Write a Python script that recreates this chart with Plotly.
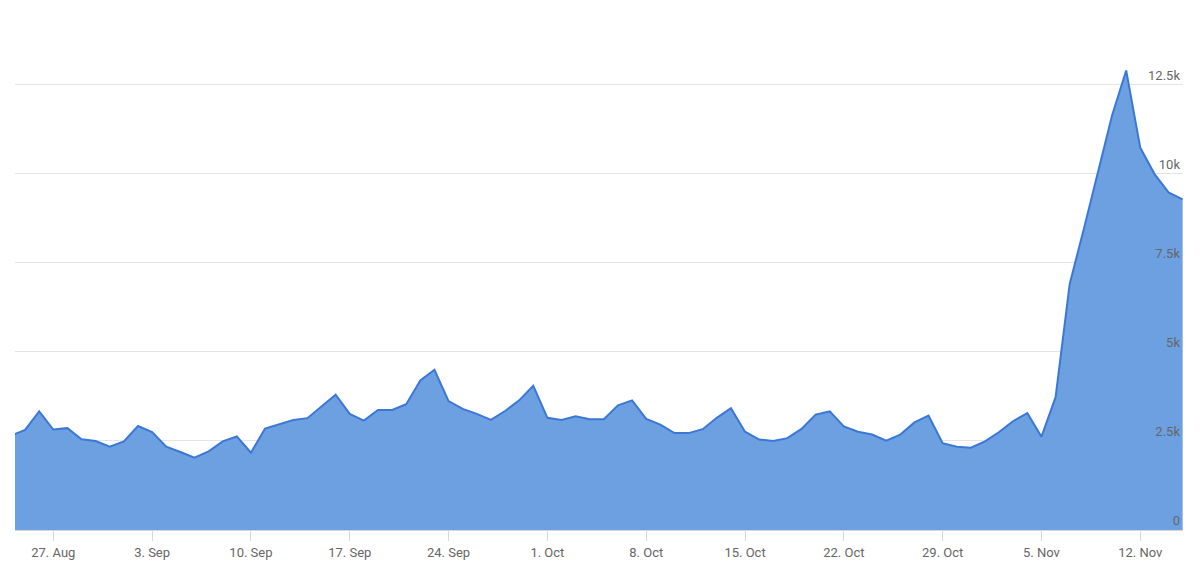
import pandas as pd
import plotly.graph_objects as go

start_date = "2018-08-24"
values = [
    2650, 2810, 3330, 2820, 2860, 2550, 2500, 2340, 2490, 2920,
    2750, 2340, 2190, 2030, 2210, 2490, 2630, 2170, 2850, 2960,
    3090, 3140, 3470, 3800, 3260, 3070, 3370, 3370, 3530, 4200,
    4500, 3620, 3400, 3260, 3090, 3340, 3640, 4050, 3150, 3090,
    3190, 3110, 3110, 3500, 3640, 3120, 2960, 2720, 2720, 2830,
    3150, 3420, 2760, 2540, 2500, 2580, 2840, 3240, 3330, 2910,
    2760, 2680, 2510, 2680, 3020, 3210, 2440, 2340, 2310, 2490,
    2750, 3060, 3280, 2620, 3730, 6910, 8450, 10050, 11640, 12900,
    10730, 10000, 9480, 9280,
]
dates = pd.date_range(start_date, periods=len(values), freq="D")

y_ticks = [0, 2500, 5000, 7500, 10000, 12500]
y_tick_labels = ["0", "2.5k", "5k", "7.5k", "10k", "12.5k"]

fig = go.Figure()
fig.add_trace(go.Scatter(
    x=dates, y=values, mode="lines",
    line=dict(color="#3b78d6", width=2),
    fill="tozeroy", fillcolor="#6da0e1",
    hoverinfo="x+y",
))

fig.update_layout(
    width=1200, height=570,
    margin=dict(l=7, r=25, t=2, b=48),
    paper_bgcolor="white", plot_bgcolor="white",
    showlegend=False,
    font=dict(family="Roboto, Arial, sans-serif", size=13, color="#666666"),
    xaxis=dict(
        type="date",
        range=["2018-08-24 06:53", "2018-11-15 00:36"],
        tick0="2018-08-27", dtick=7 * 86400000,
        tickformat="%-d. %b",
        showgrid=False,
        showline=True, linecolor="#d8d8d8", linewidth=1,
        ticks="outside", ticklen=10, tickcolor="#d8d8d8", tickwidth=1,
        tickfont=dict(size=13, color="#666666"),
        zeroline=False,
    ),
    yaxis=dict(
        side="right",
        range=[0, 14600],
        tickvals=y_ticks, ticktext=y_tick_labels,
        ticklabelposition="inside top",
        showgrid=True, gridcolor="#e4e4e4", gridwidth=1,
        zeroline=False, showline=False,
        tickfont=dict(size=13, color="#666666"),
    ),
)

fig.write_html("out.html")
